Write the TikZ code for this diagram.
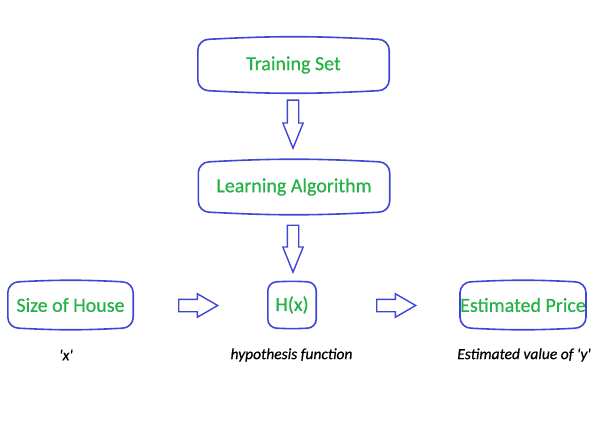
\documentclass[tikz,border=0pt]{standalone}
\usepackage{fontspec}
\setmainfont{Carlito}
\newfontfamily\boxfont[FakeBold=0.7]{Carlito}
\newfontfamily\notefont[FakeBold=0.6,ItalicFont=Carlito Italic,ItalicFeatures={FakeBold=0.6}]{Carlito}
\usetikzlibrary{shapes.arrows}
\definecolor{boxblue}{RGB}{62,70,212}
\definecolor{txtgreen}{RGB}{38,178,72}
\tikzset{
  box/.style={draw=none, minimum height=50pt, text=txtgreen,
    font=\boxfont\fontsize{20}{22}\selectfont, inner sep=0pt},
  boxline/.style={draw=boxblue, line width=1.6pt},
  varrow/.style={draw=boxblue, line width=1.4pt, single arrow, shape border rotate=270,
    single arrow head extend=4.5pt, single arrow head indent=0pt, single arrow tip angle=44,
    inner sep=5pt, minimum height=48pt, anchor=tail},
  harrow/.style={draw=boxblue, line width=1.4pt, single arrow,
    single arrow head extend=5.5pt, single arrow head indent=0pt, single arrow tip angle=60,
    inner sep=5.5pt, minimum height=39pt, anchor=tail}
  ,note/.style={font=\notefont\itshape\fontsize{15.5}{17}\selectfont, text=black}
}
\newcommand\roundbox[2][11]{%
  \pgfmathsetmacro\kk{0.45*#1}%
  \draw[boxline]
    ([yshift=#1pt]#2.south west) -- ([yshift=-#1pt]#2.north west)
    .. controls ([yshift=-\kk pt]#2.north west) and ([xshift=\kk pt]#2.north west) .. ([xshift=#1pt]#2.north west)
    to[bend left=3] ([xshift=-#1pt]#2.north east)
    .. controls ([xshift=-\kk pt]#2.north east) and ([yshift=-\kk pt]#2.north east) .. ([yshift=-#1pt]#2.north east)
    -- ([yshift=#1pt]#2.south east)
    .. controls ([yshift=\kk pt]#2.south east) and ([xshift=-\kk pt]#2.south east) .. ([xshift=-#1pt]#2.south east)
    to[bend left=3] ([xshift=#1pt]#2.south west)
    .. controls ([xshift=\kk pt]#2.south west) and ([yshift=\kk pt]#2.south west) .. cycle;}
\begin{document}
\begin{tikzpicture}[x=1pt,y=-1pt]
\useasboundingbox (0,0) rectangle (612,425);
\node[box, minimum width=191pt, minimum height=51pt] (train) at (293.5,65) {Training Set};
\node[box, minimum width=191pt] (learn) at (294,187) {Learning Algorithm};
\node[box, minimum width=125pt, minimum height=46pt] (size) at (70.5,305) {Size of House};
\node[box, minimum width=48pt, minimum height=46pt] (h) at (292,305) {H(x)};
\node[box, minimum width=124pt, minimum height=46pt] (price) at (523,305) {Estimated Price};
\roundbox{train}
\roundbox{learn}
\roundbox{size}
\roundbox[9]{h}
\roundbox{price}
\node[varrow] (a1) at (293,99.5) {};
\node[varrow, minimum height=47pt] (a2) at (293,224.5) {};
\node[harrow] (a3) at (178,305.5) {};
\node[harrow] (a4) at (376,305.5) {};
\node[note] (x) at (66,355) {\textquotesingle x\textquotesingle};
\node[note] (hyp) at (291.5,355) {hypothesis function};
\node[note] (est) at (524,355) {Estimated value of \textquotesingle y\textquotesingle};
\end{tikzpicture}
\end{document}
